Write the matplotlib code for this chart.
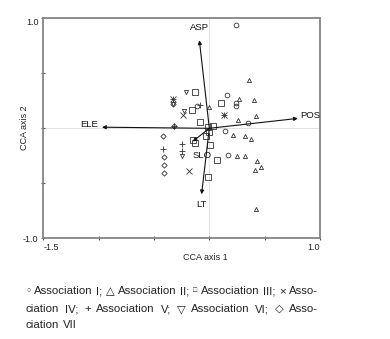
import matplotlib
matplotlib.use("Agg")
import matplotlib.pyplot as plt

plt.rcParams["font.family"] = ["Liberation Sans", "DejaVu Sans"]

# Site scores on the first two CCA axes, one pair of lists per association
assoc1_x = [0.24, 0.16, 0.24, 0.24, -0.11, 0.35, 0.14, 0.17]
assoc1_y = [0.94, 0.30, 0.23, 0.20, 0.20, 0.05, -0.02, -0.24]

assoc2_x = [0.36, 0.27, 0.40, 0.00, 0.26, 0.42, 0.21, 0.32, 0.38, 0.25, 0.32, 0.43, 0.47, 0.41, 0.42]
assoc2_y = [0.44, 0.27, 0.26, 0.19, 0.08, 0.11, -0.06, -0.07, -0.10, -0.25, -0.25, -0.30, -0.35, -0.38, -0.73]

assoc3_x = [-0.13, -0.16, 0.11, -0.08, -0.01, 0.03, 0.00, -0.03, -0.15, -0.13, 0.01, 0.07, -0.01]
assoc3_y = [0.33, 0.17, 0.23, 0.06, 0.01, 0.02, -0.03, -0.07, -0.11, -0.13, -0.15, -0.29, -0.44]

assoc4_x = [-0.24, 0.13, -0.18, -0.33]
assoc4_y = [0.12, 0.12, -0.39, 0.27]

assoc5_x = [-0.08, -0.33, 0.13, -0.25, -0.42, -0.25, -0.32]
assoc5_y = [0.21, 0.27, 0.12, -0.14, -0.19, -0.21, 0.02]

assoc6_x = [-0.21, -0.23, -0.33, -0.25]
assoc6_y = [0.33, 0.16, 0.22, -0.25]

assoc7_x = [-0.42, -0.32, -0.41, -0.41, -0.41, -0.33]
assoc7_y = [-0.07, 0.02, -0.26, -0.33, -0.41, 0.22]

# Environmental variable biplot arrows
env_names = ["ASP", "ELE", "POS", "LT", "SLO"]
env_x = [-0.09, -0.97, 0.80, -0.07, -0.15]
env_y = [0.80, 0.01, 0.09, -0.60, -0.12]

x_ticks = [-1.5, -1.0, -0.5, 0.0, 0.5, 1.0]
x_ticklabels = ["-1.5", "", "", "", "", "1.0"]
y_ticks = [-1.0, -0.5, 0.0, 0.5, 1.0]
y_ticklabels = ["-1.0", "", "", "", "1.0"]

caption_lines = [
    "\u25cb Association I; \u25b3 Association II; \u25a1 Association III; \u00d7 Asso-",
    "ciation IV; + Association V; \u25bd Association VI; \u25c7 Asso-",
    "ciation VII",
]

W, H = 390, 339
fig = plt.figure(figsize=(W / 100, H / 100), dpi=100)
ax = fig.add_axes([43.3 / W, 1 - 238.3 / H, (320 - 43.3) / W, (238.3 - 18.3) / H])

ax.set_xlim(-1.5, 1.0)
ax.set_ylim(-1.0, 1.0)

ax.axhline(0, color="#dcdcdc", lw=0.6, zorder=0)
ax.axvline(0, color="#dcdcdc", lw=0.6, zorder=0)

mc = "#333333"
common = dict(linestyle="none", markerfacecolor="none", markeredgecolor=mc, markeredgewidth=0.6, zorder=3)
ax.plot(assoc1_x, assoc1_y, marker="o", markersize=3.4, **common)
ax.plot(assoc2_x, assoc2_y, marker="^", markersize=3.0, **common)
ax.plot(assoc3_x, assoc3_y, marker="s", markersize=4.0, **common)
ax.plot(assoc4_x, assoc4_y, marker="x", markersize=4.0, **common)
ax.plot(assoc5_x, assoc5_y, marker="+", markersize=4.2, **common)
ax.plot(assoc6_x, assoc6_y, marker="v", markersize=3.0, **common)
ax.plot(assoc7_x, assoc7_y, marker="D", markersize=2.7, **common)

label_offsets = {
    "ASP": (0, 6, "center", "bottom"),
    "ELE": (-3, 2, "right", "center"),
    "POS": (2, 2, "left", "center"),
    "LT": (0, -4, "center", "top"),
    "SLO": (0, -10, "left", "center"),
}
for name, ex, ey in zip(env_names, env_x, env_y):
    ax.annotate("", xy=(ex, ey), xytext=(0, 0),
                arrowprops=dict(arrowstyle="-|>", lw=0.8, color="#111111",
                                mutation_scale=5.5, shrinkA=0, shrinkB=0), zorder=4)
    dx, dy, ha, va = label_offsets[name]
    ax.annotate(name, xy=(ex, ey), xytext=(dx, dy), textcoords="offset points",
                ha=ha, va=va, fontsize=6.8, color="#111111", zorder=5)

ax.set_xticks(x_ticks)
ax.set_xticklabels(x_ticklabels)
ax.set_yticks(y_ticks)
ax.set_yticklabels(y_ticklabels)
xl = ax.get_xticklabels()
xl[0].set_ha("left")
xl[-1].set_ha("right")
yl = ax.get_yticklabels()
yl[-1].set_va("top")
ax.tick_params(direction="inout", length=3, width=0.8, color="#555555",
               labelsize=6.5, labelcolor="#222222", pad=2)

for sp in ax.spines.values():
    sp.set_color("#858585")
    sp.set_linewidth(1.3)

fig.text(205 / W, 1 - 257 / H, "CCA axis 1", ha="center", va="center", fontsize=6.5, color="#222222")
fig.text(25 / W, 1 - 128 / H, "CCA axis 2", ha="center", va="center", rotation=90, fontsize=6.5, color="#222222")

# Justified caption beneath the plot
fig.canvas.draw()
renderer = fig.canvas.get_renderer()
x0, x1 = 26, 318
line_y = [291, 309, 325]
sizes = {"\u25cb": 5.0, "\u25a1": 5.0}
for i, line in enumerate(caption_lines):
    words = line.split(" ")
    texts = [fig.text(0, 1 - line_y[i] / H, w, ha="left", va="center",
                      fontsize=sizes.get(w, 8.2), color="#222222") for w in words]
    widths = [t.get_window_extent(renderer).width for t in texts]
    if i < len(caption_lines) - 1:
        gap = (x1 - x0 - sum(widths)) / (len(words) - 1)
    else:
        gap = 3.5
    x = x0
    for t, wd in zip(texts, widths):
        t.set_x(x / W)
        x += wd + gap

fig.savefig("out.png", dpi=100)
